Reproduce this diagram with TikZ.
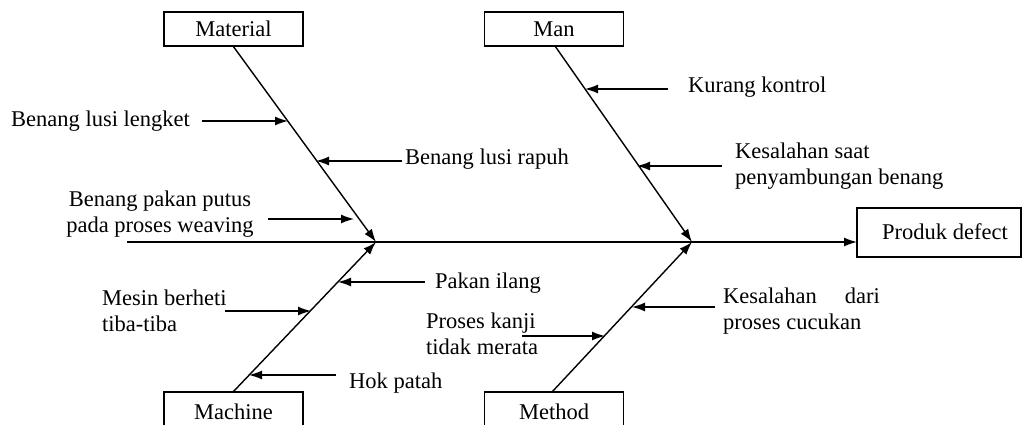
\documentclass[tikz,border=0pt]{standalone}
\usepackage{fontspec}
\setmainfont{Liberation Serif}
\usetikzlibrary{arrows.meta}
\begin{document}
\begin{tikzpicture}[x=1pt,y=-1pt,
  every node/.style={font=\fontsize{22.5}{26.5}\selectfont, inner sep=0pt},
  catbox/.style={draw, line width=1.2pt, minimum width=139pt, minimum height=34pt},
  bone/.style={line width=1.4pt, -{Latex[length=13pt,width=9pt]}},
  lbl/.style={anchor=west, align=left}]
\useasboundingbox (0,0) rectangle (1022,425);
\clip (0,0) rectangle (1022,425);
% category boxes
\node[catbox] (mat) at (233.5,29) {Material};
\node[catbox] (man) at (554,29) {Man};
\node[catbox, minimum height=50pt] (mach) at (233.5,417) {};
\node at (233.5,412) (machT) {Machine};
\node[catbox, minimum height=50pt] (meth) at (554,417) {};
\node at (554,412) (methT) {Method};
\node[draw, line width=1.2pt, minimum width=164pt, minimum height=49pt] (eff) at (939,232.5) {};
\node at (945,232) (effT) {Produk defect};
% spine
\coordinate (s0) at (127,242);
\coordinate (j1) at (376,242);
\coordinate (j2) at (692,242);
\coordinate (effin) at (857,242);
\draw[bone] (s0) -- (effin);
% bones
\coordinate (matb) at (233,46);
\coordinate (manb) at (555,46);
\coordinate (macht) at (233,392);
\coordinate (metht) at (552,392);
\draw[bone] (matb) -- (j1);
\draw[bone] (macht) -- (j1);
\draw[bone] (manb) -- (j2);
\draw[bone] (metht) -- (j2);
% cause labels
\node[lbl] (c1) at (11,121) {Benang lusi lengket};
\coordinate (c1s) at (202,121); \coordinate (c1e) at (288,121);
\draw[bone] (c1s) -- (c1e);
\node[lbl] (c2) at (405,159) {Benang lusi rapuh};
\coordinate (c2s) at (402,161); \coordinate (c2e) at (316,161);
\draw[bone] (c2s) -- (c2e);
\node[align=center] (c3) at (160,214) {Benang pakan putus\\pada proses weaving};
\coordinate (c3s) at (268,219); \coordinate (c3e) at (354,219);
\draw[bone] (c3s) -- (c3e);
\node[lbl] (c4) at (688,87) {Kurang kontrol};
\coordinate (c4s) at (668,89); \coordinate (c4e) at (585,89);
\draw[bone] (c4s) -- (c4e);
\node[lbl] (c5) at (735,166) {Kesalahan saat\\penyambungan benang};
\coordinate (c5s) at (722,166); \coordinate (c5e) at (637,166);
\draw[bone] (c5s) -- (c5e);
\node[lbl] (c6) at (435,283) {Pakan ilang};
\coordinate (c6s) at (425,282); \coordinate (c6e) at (338,282);
\draw[bone] (c6s) -- (c6e);
\node[lbl] (c7) at (102,311) {Mesin berheti\\tiba-tiba};
\coordinate (c7s) at (225,311); \coordinate (c7e) at (311,311);
\draw[bone] (c7s) -- (c7e);
\node[lbl] (c8) at (349,383) {Hok patah};
\coordinate (c8s) at (336,375); \coordinate (c8e) at (249,375);
\draw[bone] (c8s) -- (c8e);
\node[lbl] (c9) at (426,334) {Proses kanji\\tidak merata};
\coordinate (c9s) at (522,336); \coordinate (c9e) at (605,336);
\draw[bone] (c9s) -- (c9e);
\node[lbl] (c10) at (723,311) {Kesalahan\hspace{28pt}dari\\proses cucukan};
\coordinate (c10s) at (715,307); \coordinate (c10e) at (632,307);
\draw[bone] (c10s) -- (c10e);
\end{tikzpicture}
\end{document}
